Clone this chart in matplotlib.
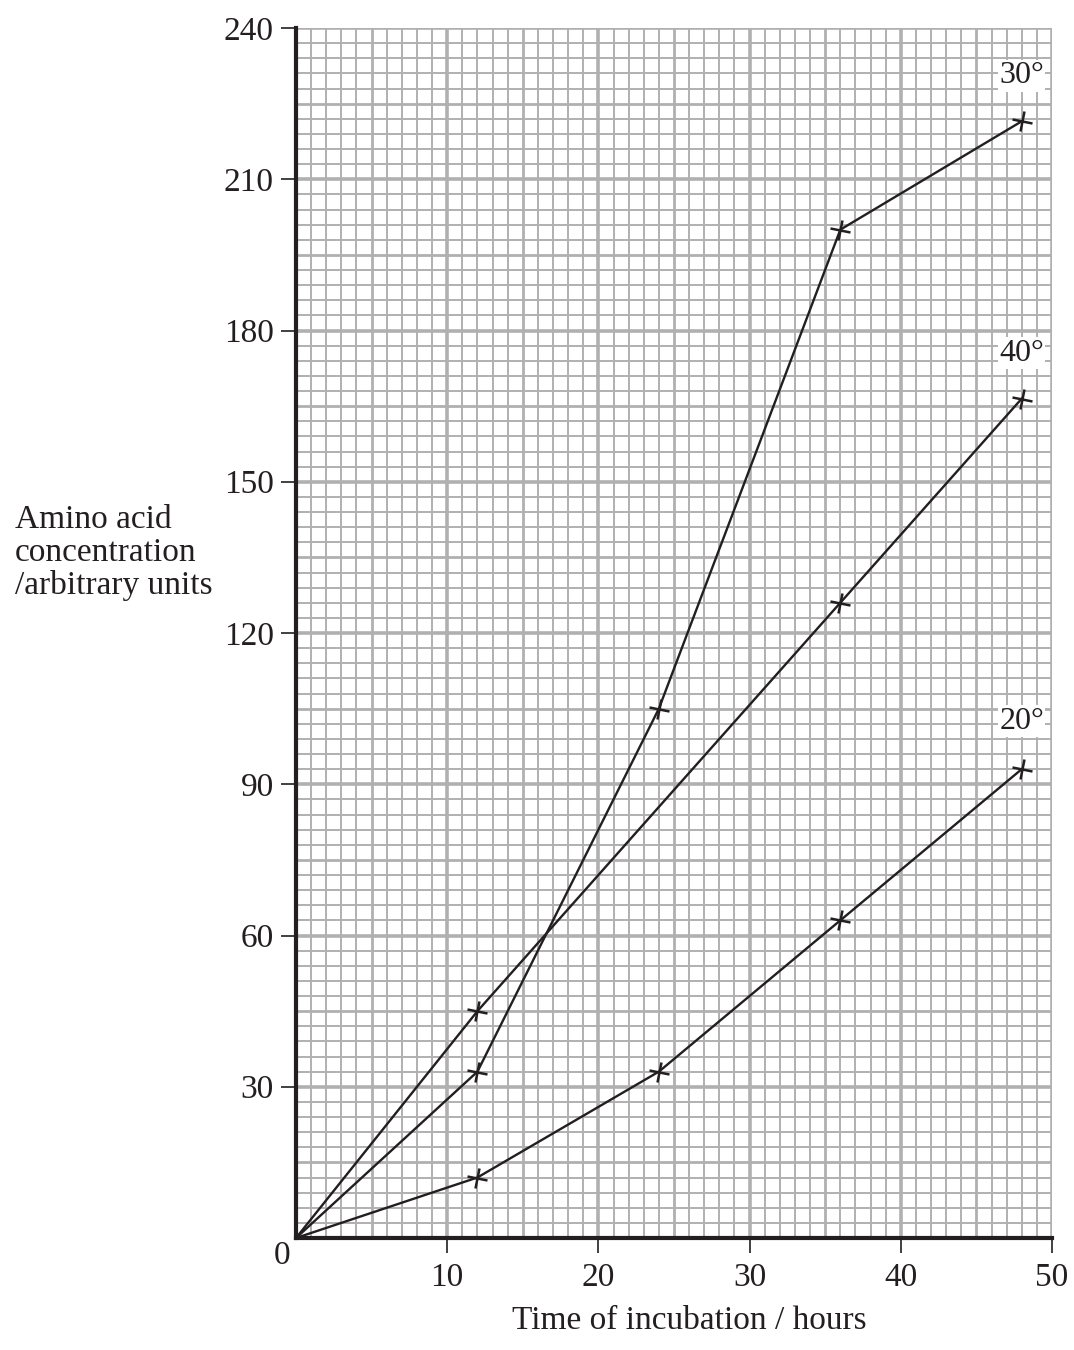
import numpy as np
import matplotlib
matplotlib.use('Agg')
import matplotlib.pyplot as plt
from matplotlib.markers import MarkerStyle
from matplotlib.transforms import Affine2D

plt.rcParams['font.family'] = ['Liberation Serif', 'DejaVu Serif']

# ── data ──────────────────────────────────────────────────────────────────────
hours_30 = [0, 12, 24, 36, 48]
conc_30 = [0, 33, 105, 200, 221.5]

hours_40 = [0, 12, 36, 48]
conc_40 = [0, 45, 126, 166.5]

hours_20 = [0, 12, 24, 36, 48]
conc_20 = [0, 12, 33, 63, 93]

curve_labels = ['30°', '40°', '20°']
x_ticks = [10, 20, 30, 40, 50]
y_ticks = [30, 60, 90, 120, 150, 180, 210, 240]

INK = '#231f20'
GRID = '#b0b0b0'

# ── figure ────────────────────────────────────────────────────────────────────
fig = plt.figure(figsize=(10.74, 13.5), dpi=100)
ax = fig.add_axes([296/1074, 1 - 1238/1350, (1052-296)/1074, (1238-28)/1350])
ax.set_xlim(0, 50)
ax.set_ylim(0, 240)

# graph paper
for x in np.arange(0, 51, 1):
    lw = 2.6 if x % 10 == 0 else (2.0 if x % 5 == 0 else 1.4)
    ax.axvline(x, color=GRID, lw=lw, zorder=0)
for y in np.arange(0, 241, 3):
    lw = 2.6 if y % 30 == 0 else (2.0 if y % 15 == 0 else 1.4)
    ax.axhline(y, color=GRID, lw=lw, zorder=0)

for s in ['top', 'right']:
    ax.spines[s].set_visible(False)
for s in ['left', 'bottom']:
    ax.spines[s].set_linewidth(3)
    ax.spines[s].set_color(INK)
    ax.spines[s].set_zorder(5)

mk = MarkerStyle('+', transform=Affine2D().rotate_deg(-12))
style = dict(color=INK, lw=1.7, marker=mk, markersize=15, markeredgewidth=1.8,
             markevery=slice(1, None), clip_on=False, zorder=3)
ax.plot(hours_30, conc_30, **style)
ax.plot(hours_40, conc_40, **style)
ax.plot(hours_20, conc_20, **style)

label_pos = [(48, 230.5), (48, 175.5), (48, 102.5)]
for lab, (lx, ly) in zip(curve_labels, label_pos):
    ax.text(lx, ly, lab, fontsize=23, color=INK, ha='center', va='center',
            bbox=dict(facecolor='white', edgecolor='none', pad=1), zorder=4)

ax.set_xticks(x_ticks)
ax.set_yticks(y_ticks)
ax.tick_params(axis='both', direction='out', length=11, width=1.2, colors=INK,
               labelsize=24, pad=5)
ax.tick_params(axis='x', pad=7)
ax.text(-0.93, -3.6, '0', fontsize=24, color=INK, ha='center', va='center')

fig.text(15/1074, 1 - 553/1350, 'Amino acid\nconcentration\n/arbitrary units',
         fontsize=24, color=INK, ha='left', va='center', linespacing=1.1)
fig.text(689/1074, 1 - 1321/1350, 'Time of incubation / hours',
         fontsize=24, color=INK, ha='center', va='center')

plt.savefig('out.png', dpi=100)
plt.close()
